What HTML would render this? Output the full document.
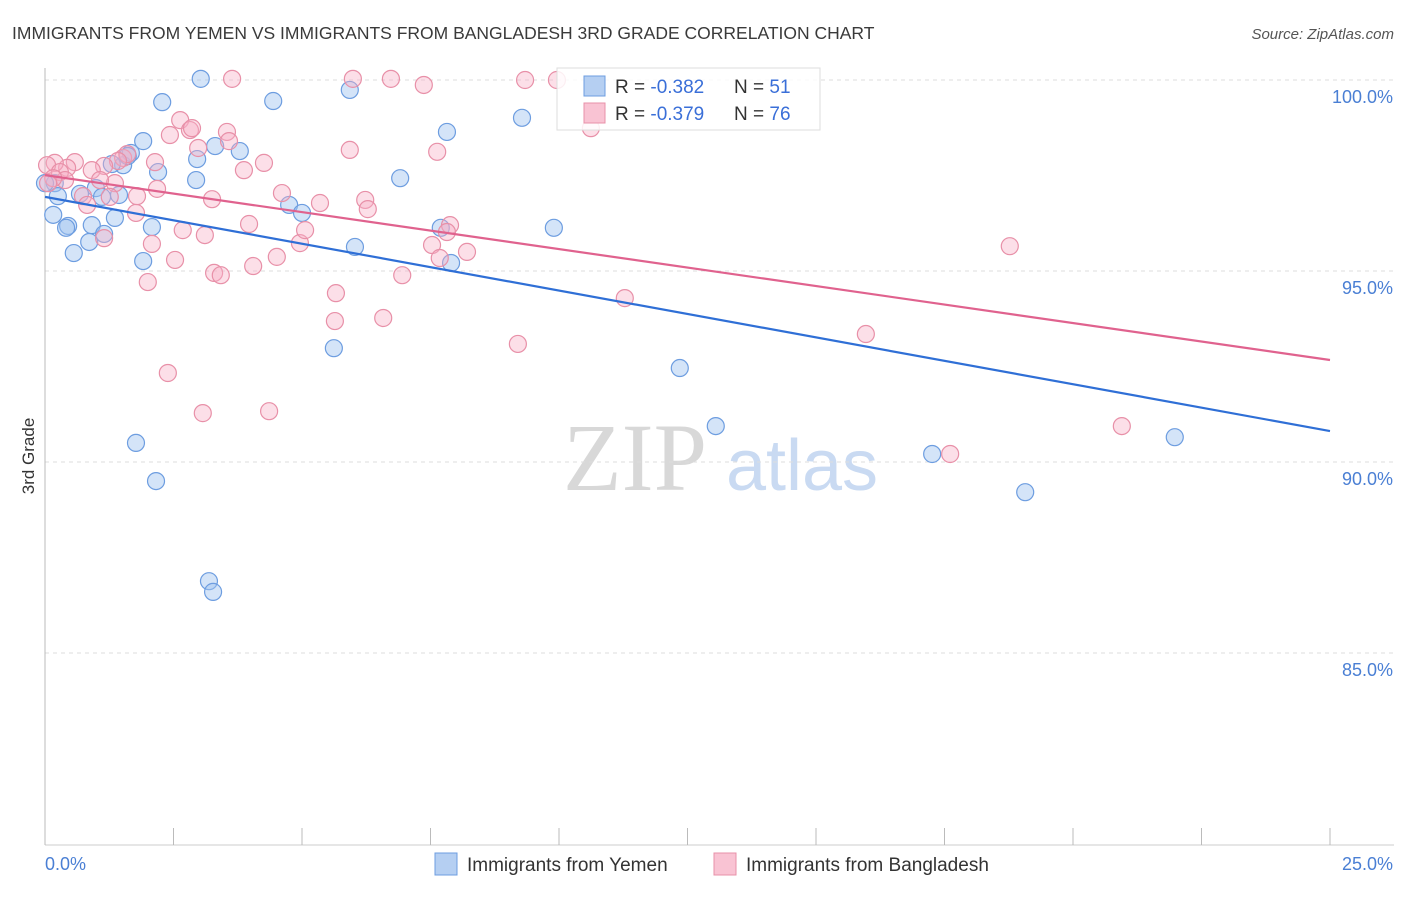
<!DOCTYPE html>
<html><head><meta charset="utf-8"><style>
body{margin:0;background:#fff;font-family:"Liberation Sans",sans-serif;}
svg text{font-family:"Liberation Sans",sans-serif;}
</style></head><body>
<svg id="chart" width="1406" height="892">
<text x="12" y="39" font-size="17.5" fill="#3a3a3a">IMMIGRANTS FROM YEMEN VS IMMIGRANTS FROM BANGLADESH 3RD GRADE CORRELATION CHART</text>
<text x="1394" y="39" font-size="15" fill="#555" font-style="italic" text-anchor="end">Source: ZipAtlas.com</text>
<text x="34" y="456" font-size="17" fill="#333" text-anchor="middle" transform="rotate(-90 34 456)">3rd Grade</text>
<g>
<text x="635" y="490" font-size="96" fill="#d8d8d8" font-family="Liberation Serif" text-anchor="middle" style="font-family:'Liberation Serif',serif">ZIP</text>
<text x="802" y="490" font-size="72" fill="#c9daf2" text-anchor="middle">atlas</text>
</g>
<g id="grid"></g><g id="axes"></g><g id="pts"></g><g id="trend"></g>
<g>
<rect x="557" y="68" width="263" height="62" fill="#fff" fill-opacity="0.85" stroke="#ddd"/>
<rect x="584" y="76" width="21" height="20" fill="#b5cff2" stroke="#6d9de0"/>
<rect x="584" y="103" width="21" height="20" fill="#f9c3d3" stroke="#e890a8"/>
<text x="615" y="93" font-size="19" fill="#333">R = <tspan fill="#3a6fd8">-0.382</tspan><tspan x="734">N = </tspan><tspan fill="#3a6fd8">51</tspan></text>
<text x="615" y="120" font-size="19" fill="#333">R = <tspan fill="#3a6fd8">-0.379</tspan><tspan x="734">N = </tspan><tspan fill="#3a6fd8">76</tspan></text>
</g>
<g>
<rect x="435" y="853" width="22" height="22" fill="#b5cff2" stroke="#6d9de0"/>
<text x="467" y="871" font-size="19" fill="#333">Immigrants from Yemen</text>
<rect x="714" y="853" width="22" height="22" fill="#f9c3d3" stroke="#e890a8"/>
<text x="746" y="871" font-size="19" fill="#333">Immigrants from Bangladesh</text>
</g>
</svg>
<script>
const yTicks=[100,95,90,85];
const yTickLabels=["100.0%","95.0%","90.0%","85.0%"];
const xTickCount=10;
const xLabels=["0.0%","25.0%"];
const yemenX=[3.03,2.28,4.44,5.93,9.28,7.82,1.91,3.79,3.31,2.96,1.52,1.30,2.20,2.94,6.91,0.19,0.99,0.25,0.68,1.11,1.44,0.16,1.36,4.75,5.00,2.08,0.45,0.41,0.91,1.15,0.86,0.56,1.91,6.03,7.70,7.90,9.90,5.62,12.35,13.05,1.77,2.16,17.26,19.07,21.98,3.19,3.27,1.67,1.61,0.00];
const yemenY=[100.03,99.42,99.45,99.74,99.01,98.64,98.40,98.14,98.27,97.93,97.77,97.80,97.59,97.38,97.43,97.30,97.17,96.96,97.02,96.94,96.99,96.47,96.39,96.73,96.52,96.15,96.18,96.13,96.20,95.97,95.76,95.47,95.26,95.63,96.13,95.21,96.13,92.98,92.46,90.94,90.50,89.50,90.21,89.21,90.65,86.88,86.60,98.09,98.01,97.30];
const bangX=[3.64,5.99,6.73,7.37,9.34,9.96,10.62,2.63,2.43,2.82,2.86,3.54,3.58,2.98,5.93,7.63,4.26,3.87,1.52,1.60,1.42,2.14,1.15,0.91,0.58,0.43,0.19,0.04,0.29,0.39,0.16,0.06,1.36,2.18,4.61,3.25,5.35,6.23,6.28,1.79,1.26,0.74,0.82,1.77,3.97,2.68,3.11,7.88,7.82,1.15,2.08,4.96,7.53,7.68,8.21,2.53,4.51,4.05,3.29,3.42,6.95,2.00,5.66,5.64,6.58,11.28,9.20,2.39,3.07,4.36,15.97,18.77,20.95,17.61,5.06,1.07];
const bangY=[100.03,100.03,100.03,99.87,100.00,100.00,98.74,98.95,98.56,98.69,98.74,98.64,98.40,98.22,98.17,98.12,97.83,97.64,97.96,98.06,97.88,97.85,97.75,97.64,97.85,97.70,97.83,97.77,97.59,97.38,97.43,97.30,97.30,97.15,97.04,96.88,96.78,96.86,96.62,96.96,96.94,96.96,96.73,96.52,96.23,96.07,95.94,96.20,96.02,95.86,95.71,95.73,95.68,95.34,95.50,95.29,95.37,95.13,94.95,94.89,94.89,94.71,94.42,93.69,93.77,94.29,93.09,92.33,91.28,91.33,93.35,95.65,90.94,90.21,96.07,97.38];
const yemenTrend=[96.94,90.81];
const bangTrend=[97.51,92.67];
const X0=45,X1=1330,Y100=80,PXPER=38.2;
const sx=v=>X0+(v/25)*(X1-X0);
const sy=v=>Y100+(100-v)*PXPER;
const NS="http://www.w3.org/2000/svg";
function mk(tag,parent,attrs){const e=document.createElementNS(NS,tag);for(const k in attrs)e.setAttribute(k,attrs[k]);parent.appendChild(e);return e;}
const grid=document.getElementById('grid'),axes=document.getElementById('axes'),pts=document.getElementById('pts'),trend=document.getElementById('trend');
yTicks.forEach((t,i)=>{
 const l=mk('line',grid,{x1:X0,x2:1394,y1:sy(t),y2:sy(t),stroke:'#ddd','stroke-dasharray':'4 4'});
 
 
 const tx=mk('text',axes,{x:1393,y:sy(t)+23,'font-size':18,fill:'#4a7fd4','text-anchor':'end'});
 tx.textContent=yTickLabels[i];
 
 
});
const ya=mk('line',axes,{x1:X0,x2:X0,y1:68,y2:845,stroke:'#bbb'});


const xa=mk('line',axes,{x1:X0,x2:1394,y1:845,y2:845,stroke:'#ccc'});


for(let i=0;i<=xTickCount;i++){
 const x=sx(25*i/xTickCount);
 const tk=mk('line',axes,{x1:x,x2:x,y1:828,y2:845,stroke:'#bbb'});
 
 
}
[[0,'start',45],[25,'end',1393]].forEach((d,i)=>{
 const tx=mk('text',axes,{x:d[2],y:870,'font-size':18,fill:'#4a7fd4','text-anchor':d[1]});
 tx.textContent=xLabels[i];
 
 
});
function dots(xs,ys,fill,stroke,name){
 xs.forEach((v,i)=>{
  const c=mk('circle',pts,{cx:sx(v),cy:sy(ys[i]),r:8.5,fill:fill,stroke:stroke,'stroke-width':1.2});
  
  
 });
}
dots(yemenX,yemenY,'rgba(160,196,240,0.45)','#6d9de0','yemen-point');
dots(bangX,bangY,'rgba(248,175,197,0.4)','#e890a8','bangladesh-point');
const t1=mk('line',trend,{x1:sx(0),x2:sx(25),y1:sy(yemenTrend[0]),y2:sy(yemenTrend[1]),stroke:'#2f6fd6','stroke-width':2.2});


const t2=mk('line',trend,{x1:sx(0),x2:sx(25),y1:sy(bangTrend[0]),y2:sy(bangTrend[1]),stroke:'#e0628e','stroke-width':2.2});


</script>
</body></html>
